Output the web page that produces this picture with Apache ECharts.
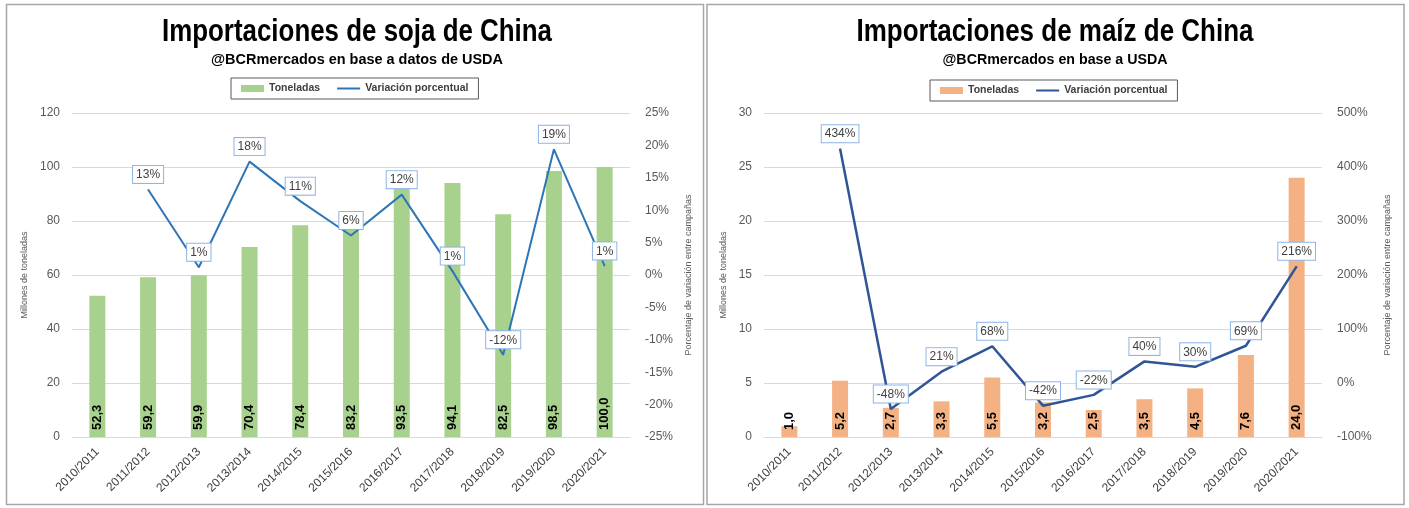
<!DOCTYPE html>
<html>
<head>
<meta charset="utf-8">
<script src="https://cdn.jsdelivr.net/npm/echarts@6/dist/echarts.min.js"></script>
<style>
html,body{margin:0;padding:0;background:#fff;}
#c1{position:absolute;left:0;top:0;width:705px;height:508px;}
#c2{position:absolute;left:705px;top:0;width:704px;height:508px;}
</style>
</head>
<body>
<div id="c1"></div>
<div id="c2"></div>
<script>
const categories = ['2010/2011','2011/2012','2012/2013','2013/2014','2014/2015','2015/2016','2016/2017','2017/2018','2018/2019','2019/2020','2020/2021'];

const sojaToneladas = [52.3, 59.2, 59.9, 70.4, 78.4, 83.2, 93.5, 94.1, 82.5, 98.5, 100.0];
const sojaVariacion = [null, 13.2, 1.2, 17.5, 11.4, 6.1, 12.4, 0.6, -12.3, 19.4, 1.4];

const maizToneladas = [1.0, 5.2, 2.7, 3.3, 5.5, 3.2, 2.5, 3.5, 4.5, 7.6, 24.0];
const maizVariacion = [null, 434, -48, 21, 68, -42, -22, 40, 30, 69, 216];

const sojaLeftTicks = {min: 0, max: 120, interval: 20};
const sojaRightTicks = {min: -25, max: 25, interval: 5};
const maizLeftTicks = {min: 0, max: 30, interval: 5};
const maizRightTicks = {min: -100, max: 500, interval: 100};

const FONT = "'Liberation Sans', Arial, sans-serif";

const measureCtx = document.createElement('canvas').getContext('2d');
function fitScale(text, font, targetWidth) {
  measureCtx.font = font;
  const w = measureCtx.measureText(text).width;
  return w > 0 ? targetWidth / w : 1;
}

function makeOption(cfg) {
  const titleFont = "bold 31px 'Liberation Sans', Arial, sans-serif";
  const subFont = "bold 15px 'Liberation Sans', Arial, sans-serif";
  return {
    animation: false,
    backgroundColor: '#fff',
    graphic: [
      {type: 'rect', shape: {x: cfg.frameX, y: 4.5, width: 697, height: 500},
       style: {fill: 'none', stroke: '#a6a6a6', lineWidth: 1.5}, silent: true},
      {type: 'text', x: cfg.centerX, y: 32, scaleX: fitScale(cfg.title, titleFont, cfg.titleWidth),
       style: {text: cfg.title, font: titleFont, fill: '#000', textAlign: 'center', textVerticalAlign: 'middle'}},
      {type: 'text', x: cfg.centerX, y: 60, scaleX: fitScale(cfg.subtitle, subFont, cfg.subWidth),
       style: {text: cfg.subtitle, font: subFont, fill: '#000', textAlign: 'center', textVerticalAlign: 'middle'}}
    ],
    legend: {
      left: cfg.legendLeft, top: cfg.legendTop,
      itemWidth: 23, itemHeight: 7, itemGap: 16,
      padding: [5, 10, 5, 10],
      borderColor: '#595959', borderWidth: 1,
      textStyle: {fontSize: 10.5, fontWeight: 'bold', color: '#404040', fontFamily: FONT},
      data: [
        {name: 'Toneladas', icon: 'rect'},
        {name: 'Variación porcentual', itemStyle: {opacity: 0}}
      ]
    },
    grid: {left: cfg.gridLeft, top: 113, width: 558, height: 324, containLabel: false},
    xAxis: {
      type: 'category', data: categories,
      axisLine: {lineStyle: {color: '#d9d9d9'}},
      axisTick: {show: false},
      axisLabel: {rotate: 45, interval: 0, fontSize: 12, color: '#404040', fontFamily: FONT, margin: 13}
    },
    yAxis: [
      {type: 'value', min: cfg.leftTicks.min, max: cfg.leftTicks.max, interval: cfg.leftTicks.interval,
       name: 'Millones de toneladas', nameLocation: 'middle', nameGap: cfg.leftNameGap, nameRotate: 90,
       nameTextStyle: {fontSize: 9, color: '#595959', fontFamily: FONT},
       axisLine: {show: false}, axisTick: {show: false},
       axisLabel: {fontSize: 12, color: '#595959', fontFamily: FONT, margin: 12},
       splitLine: {lineStyle: {color: '#d9d9d9'}}},
      {type: 'value', min: cfg.rightTicks.min, max: cfg.rightTicks.max, interval: cfg.rightTicks.interval,
       position: 'right',
       name: 'Porcentaje de variación entre campañas', nameLocation: 'middle', nameGap: cfg.rightNameGap, nameRotate: 90,
       nameTextStyle: {fontSize: 9, color: '#595959', fontFamily: FONT},
       axisLine: {show: false}, axisTick: {show: false},
       axisLabel: {fontSize: 12, color: '#595959', fontFamily: FONT, margin: 15, formatter: '{value}%'},
       splitLine: {show: false}}
    ],
    series: [
      {name: 'Toneladas', type: 'bar', data: cfg.bars, barWidth: 16, yAxisIndex: 0,
       itemStyle: {color: cfg.barColor},
       label: {show: true, position: 'insideBottom', rotate: 90, distance: 7,
               align: 'left', verticalAlign: 'middle',
               fontSize: 13, fontWeight: 'bold', color: '#000', fontFamily: FONT,
               formatter: p => p.value.toFixed(1).replace('.', ',')}},
      {name: 'Variación porcentual', type: 'line', data: cfg.line, yAxisIndex: 1,
       symbol: 'circle', symbolSize: 1, z: 5,
       lineStyle: {color: cfg.lineColor, width: cfg.lineWidth},
       itemStyle: {color: cfg.lineColor},
       label: {show: true, position: 'top', distance: 6,
               backgroundColor: '#fff', borderColor: '#8eb4e3', borderWidth: 1,
               padding: [3, 3, 2, 3], fontSize: 12, color: '#404040', fontFamily: FONT,
               formatter: p => Math.round(p.value) + '%'}}
    ]
  };
}

const c1 = echarts.init(document.getElementById('c1'));
c1.setOption(makeOption({
  frameX: 6.5, centerX: 357,
  title: 'Importaciones de soja de China', titleWidth: 390,
  subtitle: '@BCRmercados en base a datos de USDA', subWidth: 292,
  legendLeft: 231, legendTop: 78,
  gridLeft: 72, leftNameGap: 40, rightNameGap: 51,
  leftTicks: sojaLeftTicks, rightTicks: sojaRightTicks,
  bars: sojaToneladas, line: sojaVariacion,
  barColor: '#a9d18e', lineColor: '#2e75b6', lineWidth: 2
}));

const c2 = echarts.init(document.getElementById('c2'));
c2.setOption(makeOption({
  frameX: 2, centerX: 350,
  title: 'Importaciones de maíz de China', titleWidth: 397,
  subtitle: '@BCRmercados en base a USDA', subWidth: 225,
  legendLeft: 225, legendTop: 80,
  gridLeft: 59, leftNameGap: 34, rightNameGap: 60,
  leftTicks: maizLeftTicks, rightTicks: maizRightTicks,
  bars: maizToneladas, line: maizVariacion,
  barColor: '#f4b183', lineColor: '#2f5597', lineWidth: 2.5
}));
</script>
</body>
</html>
